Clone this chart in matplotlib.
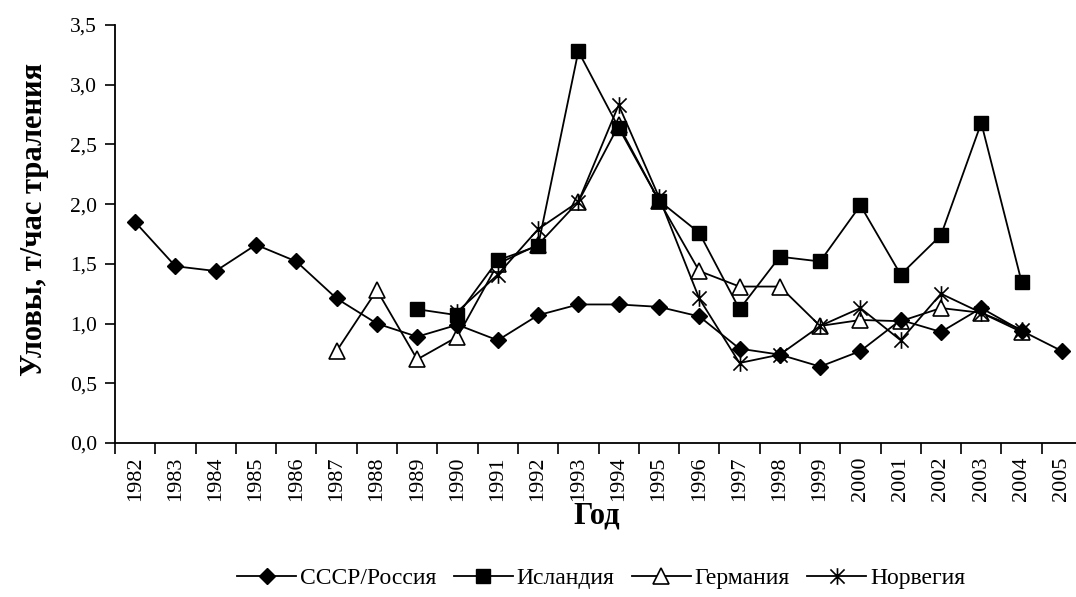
import numpy as np
import matplotlib
matplotlib.use('Agg')
import matplotlib.pyplot as plt
from matplotlib.path import Path
from matplotlib.ticker import FuncFormatter

# Data
years = [str(y) for y in range(1982, 2006)]
nan = np.nan
russia = [1.85, 1.48, 1.44, 1.66, 1.52, 1.21, 1.00, 0.89, 0.99, 0.86, 1.07, 1.16,
          1.16, 1.14, 1.06, 0.79, 0.74, 0.64, 0.77, 1.03, 0.93, 1.13, 0.94, 0.77]
iceland = [nan] * 7 + [1.12, 1.07, 1.53, 1.65, 3.28, 2.64, 2.03, 1.76, 1.12,
                       1.56, 1.52, 1.99, 1.41, 1.74, 2.68, 1.35, nan]
germany = [nan] * 5 + [0.77, 1.28, 0.70, 0.89, 1.50, 1.66, 2.02, 2.66, 2.03, 1.44,
                       1.31, 1.31, 0.98, 1.03, 1.02, 1.13, 1.09, 0.93, nan]
norway = [nan] * 8 + [1.10, 1.41, 1.79, 2.02, 2.83, 2.06, 1.21, 0.67, 0.74,
                      0.98, 1.13, 0.86, 1.25, 1.09, 0.95, nan]
labels = ['СССР/Россия', 'Исландия', 'Германия', 'Норвегия']

plt.rcParams['font.family'] = ['Liberation Serif', 'DejaVu Serif']

# Asterisk marker like the spreadsheet one: X plus a vertical bar
star = Path([(0, -1), (0, 1), (-0.85, -0.85), (0.85, 0.85), (-0.85, 0.85), (0.85, -0.85)],
            [Path.MOVETO, Path.LINETO] * 3)

fig = plt.figure(figsize=(10.76, 5.97), dpi=100)
ax = fig.add_axes([115 / 1076, (597 - 443) / 597, (1082 - 115) / 1076, (443 - 25) / 597])

x = np.arange(len(years))
lw = 1.3
# Germany sits underneath the others, as in the original
h_ger, = ax.plot(x, germany, '-', color='black', lw=lw, marker='^', ms=11,
                 mfc='white', mec='black', mew=1.2, label=labels[2], zorder=2)
h_rus, = ax.plot(x, russia, '-', color='black', lw=lw, marker='D', ms=8.5,
                 mfc='black', mec='black', label=labels[0], zorder=3)
h_ice, = ax.plot(x, iceland, '-', color='black', lw=lw, marker='s', ms=9.5,
                 mfc='black', mec='black', label=labels[1], zorder=3)
h_nor, = ax.plot(x, norway, '-', color='black', lw=lw, marker=star, ms=12,
                 fillstyle='none', mec='black', mew=1.2, label=labels[3], zorder=4)

# Axes styling
ax.set_xlim(-0.5, 23.5)
ax.set_ylim(0, 3.5)
for s in ['top', 'right']:
    ax.spines[s].set_visible(False)
ax.spines['left'].set_linewidth(1.3)
ax.spines['bottom'].set_linewidth(1.3)

ax.set_yticks(np.arange(0, 3.51, 0.5))
ax.yaxis.set_major_formatter(FuncFormatter(lambda v, p: f'{v:.1f}'.replace('.', ',')))
ax.tick_params(axis='y', direction='out', length=7, width=1.2, labelsize=15.5, pad=6)

ax.set_xticks(x)
ax.set_xticklabels(years, rotation=90)
ax.set_xticks(np.arange(-0.5, 24, 1), minor=True)
ax.tick_params(axis='x', which='major', length=0, labelsize=16, pad=10)
ax.tick_params(axis='x', which='minor', direction='out', length=8, width=1.2)

fig.text(35 / 1076, (597 - 220) / 597, 'Уловы, т/час траления', rotation=90,
         ha='center', va='center', fontsize=22, fontweight='bold')
fig.text(597 / 1076, (597 - 516) / 597, 'Год', ha='center', va='center',
         fontsize=22, fontweight='bold')

fig.legend(handles=[h_rus, h_ice, h_ger, h_nor], loc='center',
           bbox_to_anchor=(601 / 1076, (597 - 578) / 597), ncol=4,
           frameon=False, fontsize=17, handlelength=2.5, handletextpad=0.15,
           columnspacing=0.75, borderpad=0)

fig.savefig('out.png', dpi=100)
